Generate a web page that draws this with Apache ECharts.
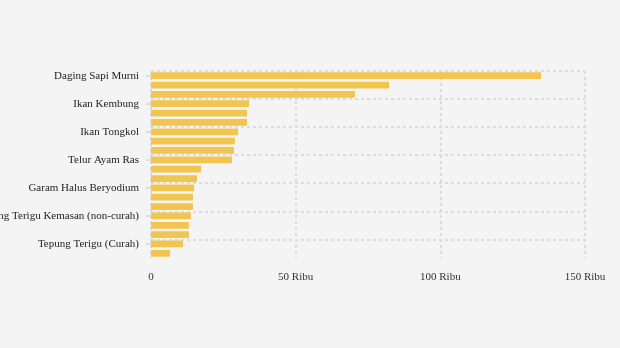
<!DOCTYPE html>
<html>
<head>
<meta charset="utf-8">
<script src="https://cdn.jsdelivr.net/npm/echarts@6/dist/echarts.min.js"></script>
<style>
html,body{margin:0;padding:0;background:#f4f4f4;}
#chart{width:620px;height:348px;}
</style>
</head>
<body>
<div id="chart"></div>
<script>
var categories = [
  "Daging Sapi Murni", "Cabai Rawit Merah", "Bawang Putih",
  "Ikan Kembung", "Daging Ayam Ras", "Bawang Merah",
  "Ikan Tongkol", "Ikan Bandeng", "Cabai Merah Keriting",
  "Telur Ayam Ras", "Minyak Goreng Kemasan", "Gula Pasir",
  "Garam Halus Beryodium", "Minyak Goreng Curah", "Beras Premium",
  "Tepung Terigu Kemasan (non-curah)", "Beras Medium", "Kedelai Impor",
  "Tepung Terigu (Curah)", "Jagung Pipilan Kering"
];
var values = [
  134800, 82300, 70500,
  33900, 33200, 33200,
  30100, 29000, 28700,
  28000, 17300, 15900,
  14900, 14500, 14500,
  13800, 13100, 13100,
  11100, 6600
];
var xTicks = [0, 50000, 100000, 150000];

var gridColor = '#dcdcdc';
// one colour per horizontal split line; the closing boundary line at the bottom is hidden
var hLineColors = [];
for (var i = 0; i < categories.length; i += 3) hLineColors.push(gridColor);
hLineColors.push('rgba(0,0,0,0)');

var chart = echarts.init(document.getElementById('chart'));
var font = "'Liberation Serif', 'Times New Roman', serif";
chart.setOption({
  backgroundColor: '#f4f4f4',
  animation: false,
  grid: { left: 151, right: 35, top: 71, bottom: 90, containLabel: false, outerBoundsMode: 'none' },
  xAxis: {
    type: 'value',
    min: xTicks[0],
    max: xTicks[xTicks.length - 1],
    interval: xTicks[1] - xTicks[0],
    axisLine: { show: false },
    axisTick: { show: false },
    axisLabel: {
      margin: 14,
      color: '#333',
      fontFamily: font,
      fontSize: 11,
      formatter: function (v) { return v === 0 ? '0' : (v / 1000) + ' Ribu'; }
    },
    splitLine: { show: true, lineStyle: { color: gridColor, width: 2, type: [3, 3] } }
  },
  yAxis: {
    type: 'category',
    inverse: true,
    data: categories,
    axisLine: { show: false },
    axisTick: { show: true, interval: 2, alignWithLabel: true, length: 5, lineStyle: { color: '#ddd', width: 2 } },
    axisLabel: { interval: 2, margin: 12, color: '#222', fontFamily: font, fontSize: 11 },
    splitLine: {
      show: true,
      interval: 2,
      lineStyle: { color: hLineColors, width: 2, type: [3, 3] }
    }
  },
  series: [{
    type: 'bar',
    data: values,
    barCategoryGap: '28%',
    itemStyle: { color: '#f1c54f' }
  }]
});
</script>
</body>
</html>
